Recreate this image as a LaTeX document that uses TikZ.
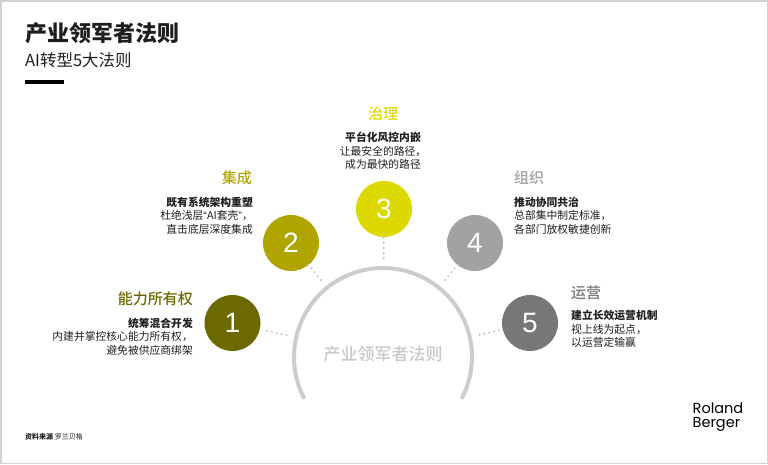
\documentclass[tikz,border=0pt]{standalone}
\usepackage{fontspec}
\setmainfont{Noto Sans CJK SC}
\newfontfamily\medfont{Noto Sans CJK SC Medium}
\newfontfamily\digitfont{Liberation Sans}
\newfontfamily\logofont{Poppins}
\usetikzlibrary{calc}
\definecolor{cA}{HTML}{6B6900}
\definecolor{cB}{HTML}{B0A500}
\definecolor{cC}{HTML}{DCD800}
\definecolor{cD}{HTML}{A2A2A2}
\definecolor{cE}{HTML}{777777}
\definecolor{txt}{HTML}{1E1E1E}
\definecolor{arcgray}{HTML}{CCCCCC}
\definecolor{dotgray}{HTML}{BDBDBD}
\definecolor{framec}{HTML}{D2D2D2}
\definecolor{ctrgray}{HTML}{C8C8C8}
\tikzset{
  numcircle/.style={circle, minimum size=56pt, inner sep=0pt, text=white,
    font=\digitfont\fontsize{28}{30}\selectfont},
  heading/.style={inner sep=0pt, font=\medfont\fontsize{15}{18}\selectfont},
  bodytext/.style={inner sep=0pt, text=txt, font=\fontsize{10.8}{13.6}\selectfont},
  dotline/.style={dotgray, line width=2.2pt, line cap=round, dash pattern=on 0pt off 5pt},
}
\begin{document}
\begin{tikzpicture}[x=1pt,y=-1pt]
\useasboundingbox (0,0) rectangle (768,464);
\draw[framec, line width=1.5pt] (0.75,0.75) rectangle (767.25,463.25);

% title block
\node[anchor=west, inner sep=0pt, text=txt, font=\bfseries\fontsize{22}{26}\selectfont] (title) at (25,33) {产业领军者法则};
\node[anchor=west, inner sep=0pt, text=txt, font=\fontsize{16.5}{20}\selectfont] (subtitle) at (25,60) {AI转型5大法则};
\fill[black] (25,80) rectangle (64,83.5);

% central arc
\coordinate (O) at (383,357);
\draw[arcgray, line width=4pt, line cap=round] ($(O)+(27:89)$) arc[start angle=27, end angle=-207, radius=89];
\node[text=ctrgray, font=\medfont\fontsize{17}{20}\selectfont] (ctr) at (383,354) {产业领军者法则};

% circles
\node[numcircle, fill=cA] (c1) at (232.5,323) {1};
\node[numcircle, fill=cB] (c2) at (291,243) {2};
\node[numcircle, fill=cC] (c3) at (384,209) {3};
\node[numcircle, fill=cD] (c4) at (475,243) {4};
\node[numcircle, fill=cE] (c5) at (530,323) {5};

% dotted connectors
\foreach \c in {c1,c2,c3,c4,c5}{
  \draw[dotline] ($(O)!99pt!(\c.center)$) -- ($(O)!120pt!(\c.center)$);
}

% group 1
\node[heading, text=cA, anchor=east] (h1) at (193,299) {能力所有权};
\node[bodytext, anchor=east, align=right] (b1) at (193,336.5) {\textbf{统筹混合开发}\\内建并掌控核心能力所有权，\\避免被供应商绑架};

% group 2
\node[heading, text=cB, anchor=east] (h2) at (252,178) {集成};
\node[bodytext, anchor=east, align=right] (b2) at (253,215.5) {\textbf{既有系统架构重塑}\\杜绝浅层{\digitfont “}AI套壳{\digitfont ”}，\\直击底层深度集成};

% group 3
\node[heading, text=cC] (h3) at (383,114) {治理};
\node[bodytext, align=center] (b3) at (383,151) {\textbf{平台化风控内嵌}\\让最安全的路径，\\成为最快的路径};

% group 4
\node[heading, text=cD, anchor=west] (h4) at (514,178) {组织};
\node[bodytext, anchor=west, align=left] (b4) at (514,215.5) {\textbf{推动协同共治}\\总部集中制定标准，\\各部门放权敏捷创新};

% group 5
\node[heading, text=cE, anchor=west] (h5) at (571,293) {运营};
\node[bodytext, anchor=west, align=left] (b5) at (571,329) {\textbf{建立长效运营机制}\\视上线为起点，\\以运营定输赢};

% footer
\node[anchor=west, inner sep=0pt, text=txt, font=\fontsize{7}{8}\selectfont] (src) at (25,437) {\textbf{资料来源} 罗兰贝格};
\node[anchor=base west, inner sep=0pt, align=left, text=black, font=\logofont\fontsize{14.5}{14}\selectfont] (logo) at (692.5,427) {Roland\\Berger};
\end{tikzpicture}
\end{document}
